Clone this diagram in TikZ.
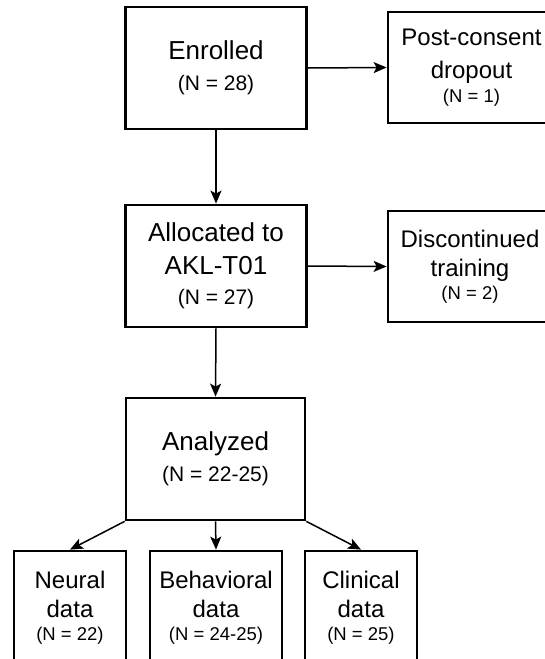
\documentclass[tikz,border=0pt]{standalone}
\usepackage{fontspec}
\setmainfont{Liberation Sans}
\usetikzlibrary{arrows.meta}

\newcommand{\bigtext}{\fontsize{26}{33}\selectfont}
\newcommand{\smalltext}{\fontsize{24}{29}\selectfont}
\newcommand{\ncount}[2]{{\fontsize{#2}{#2}\selectfont (N = #1)}}

\tikzset{
  flowbox/.style={draw, line width=2.8pt, align=center, inner sep=0pt},
  mainbox/.style={flowbox, minimum width=181pt, minimum height=122pt, font=\bigtext},
  sidebox/.style={flowbox, minimum height=111pt, font=\smalltext},
  databox/.style={flowbox, minimum height=113pt, font=\smalltext},
  flowarrow/.style={-{Stealth[length=13pt, width=11pt, inset=3pt]}, line width=1.5pt}
}

\begin{document}
\begin{tikzpicture}[x=1pt, y=-1pt]
        \useasboundingbox[fill=white] (0,0) rectangle (544,659);

        % Main column
        \node[mainbox] (enrolled) at (216, 68) {Enrolled\\[-2pt]\ncount{28}{21}};
        \node[mainbox] (allocated) at (216, 266) {Allocated to\\AKL-T01\\[-3pt]\ncount{27}{21}};
        \node[mainbox, minimum width=179pt] (analyzed) at (215.5, 459) {Analyzed\\[-2pt]\ncount{22-25}{21}};

        % Exclusions on the right
        \node[sidebox, minimum width=167pt, font=\fontsize{24}{33}\selectfont] (dropout) at (471.5, 67.5) {Post-consent\\dropout\\[-9pt]\ncount{1}{18.5}};
        \node[sidebox, minimum width=164pt] (discont) at (470, 266.5) {Discontinued\\training\\[-6pt]\ncount{2}{18.5}};

        % Data subsets
        \node[databox, minimum width=112pt] (neural) at (70, 607.5) {Neural\\data\\[-6pt]\ncount{22}{18.5}};
        \node[databox, minimum width=132pt] (behav) at (216, 607.5) {Behavioral\\data\\[-6pt]\ncount{24-25}{18.5}};
        \node[databox, minimum width=112pt] (clinical) at (361, 607.5) {Clinical\\data\\[-6pt]\ncount{25}{18.5}};

        % Connectors
        \draw[flowarrow] (enrolled.east) -- (dropout.west);
        \draw[flowarrow] (enrolled.south) -- (allocated.north);
        \draw[flowarrow] (allocated.east) -- (discont.west);
        \draw[flowarrow] (allocated.south) -- (analyzed.north);
        \draw[flowarrow] (analyzed.south west) -- (neural.north);
        \draw[flowarrow] (analyzed.south) -- (behav.north);
        \draw[flowarrow] (analyzed.south east) -- (clinical.north);
\end{tikzpicture}
\end{document}
